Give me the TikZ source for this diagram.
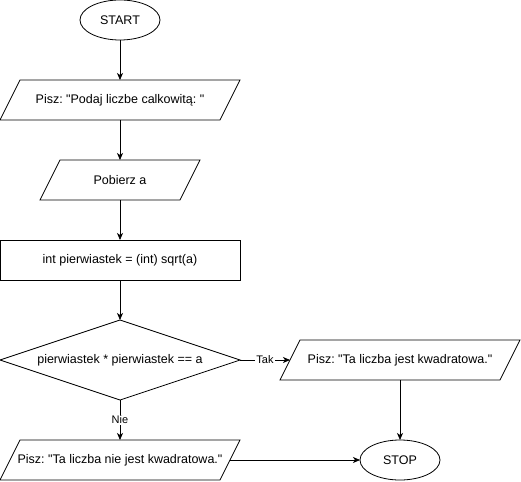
\documentclass[tikz,border=0pt]{standalone}
\usepackage{fontspec}
\setmainfont{Liberation Sans}
\usepackage{tikz}
\usetikzlibrary{shapes.geometric,arrows.meta,positioning}
\frenchspacing

\begin{document}
\begin{tikzpicture}[x=1pt, y=1pt, node distance=40pt, line width=0.8pt,
  every node/.style={font=\fontsize{12.5}{14}\selectfont, outer sep=0pt},
  term/.style={draw, ellipse, minimum width=80pt, minimum height=40pt, inner sep=0pt},
  io/.style={rectangle, minimum height=40pt, inner sep=0pt},
  proc/.style={draw, rectangle, minimum width=240pt, minimum height=40pt},
  cond/.style={draw, diamond, aspect=3, minimum width=240pt, minimum height=80pt, inner sep=1pt},
  flow/.style={-{Stealth[length=7pt,width=6pt,inset=2pt]}},
  lbl/.style={fill=white, inner sep=1pt, font=\fontsize{11}{13}\selectfont}]
  \useasboundingbox (0,0) rectangle (521,-481);

  \node[term] (start) at (120,-20) {START};
  \node[io, minimum width=220pt, below=of start] (ask) {Pisz: \textquotedbl Podaj liczbe calkowitą: \textquotedbl};
  \node[io, minimum width=140pt, below=of ask] (read) {Pobierz a};
  \node[proc, below=of read] (calc) {int pierwiastek = (int) sqrt(a)};
  \node[cond, below=of calc] (check) {pierwiastek * pierwiastek == a};
  \node[io, minimum width=220pt, right=50pt of check] (yes) {Pisz: \textquotedbl Ta liczba jest kwadratowa.\textquotedbl};
  \node[io, minimum width=220pt, below=of check] (no) {Pisz: \textquotedbl Ta liczba nie jest kwadratowa.\textquotedbl};
  \node[term, below=60pt of yes] (stop) {STOP};

  % parallelogram outlines round the io nodes
  \foreach \n in {ask,read,yes,no}
    \draw ([xshift=-10pt]\n.south west) -- ([xshift=10pt]\n.north west)
      -- ([xshift=10pt]\n.north east) -- ([xshift=-10pt]\n.south east) -- cycle;

  \draw[flow] (start) -- (ask);
  \draw[flow] (ask) -- (read);
  \draw[flow] (read) -- (calc);
  \draw[flow] (calc) -- (check);
  \draw[flow] (check) -- node[lbl] {Tak} (yes);
  \draw[flow] (check) -- node[lbl] {Nie} (no);
  \draw[flow] (yes) -- (stop);
  \draw[flow] (no) -- (stop);
\end{tikzpicture}
\end{document}
